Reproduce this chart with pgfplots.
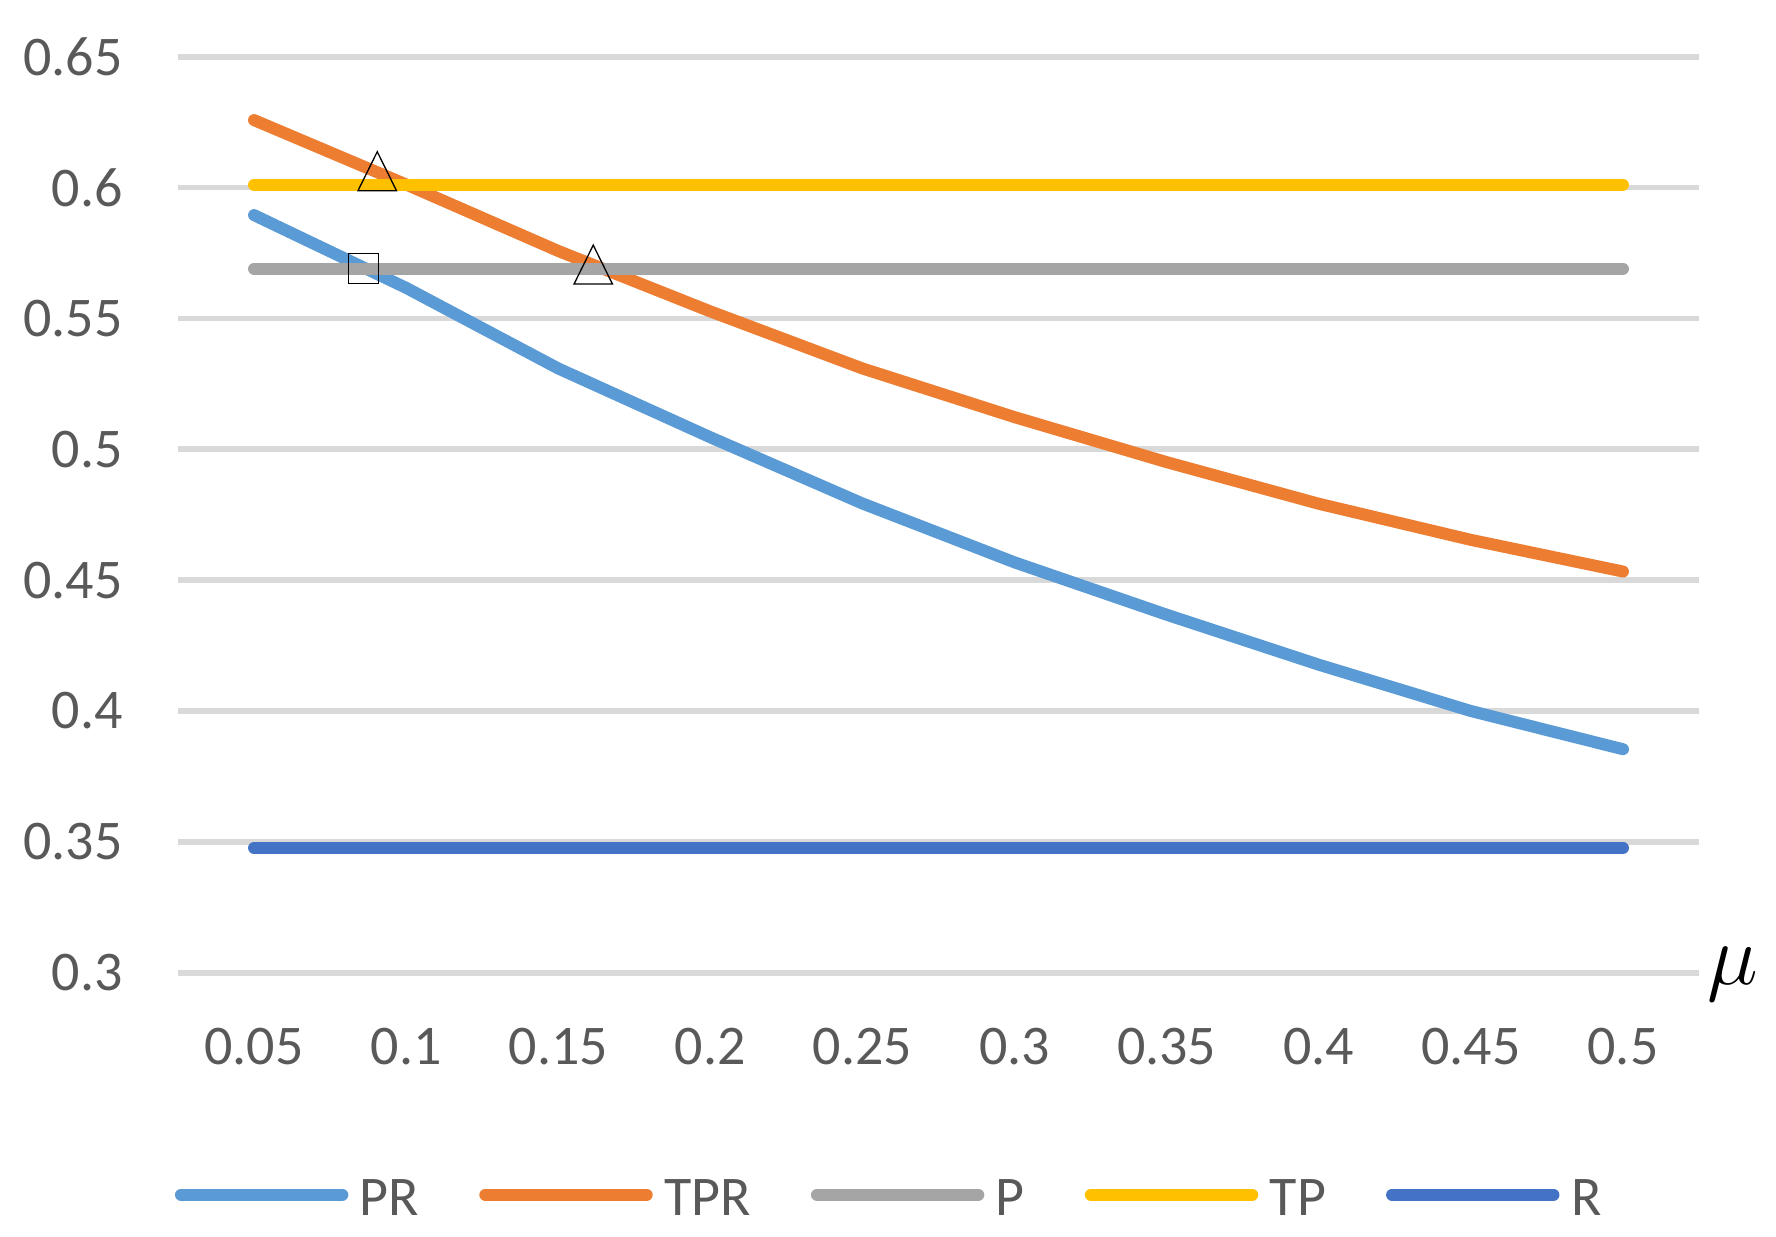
\RequirePackage{fix-cm}
\documentclass[border=0pt]{standalone}
\usepackage{fontspec}
\setmainfont{Carlito}
\usepackage{pgfplots}
\pgfplotsset{compat=1.18}
\definecolor{cPR}{HTML}{5B9BD5}
\definecolor{cTPR}{HTML}{ED7D31}
\definecolor{cP}{HTML}{A5A5A5}
\definecolor{cTP}{HTML}{FFC000}
\definecolor{cR}{HTML}{4472C4}
\definecolor{gridc}{HTML}{D9D9D9}
\definecolor{txt}{HTML}{595959}
\begin{document}
\begin{tikzpicture}
\useasboundingbox (0,0) rectangle (888pt,618pt);
\begin{axis}[
  at={(89pt,131.65pt)}, anchor=south west,
  width=760.5pt, height=457.95pt, scale only axis,
  xmin=0.025, xmax=0.525, ymin=0.3, ymax=0.65,
  axis line style={draw=none}, tick style={draw=none}, major tick length=0pt,
  xtick={0.05,0.1,0.15,0.2,0.25,0.3,0.35,0.4,0.45,0.5},
  xticklabels={0.05,0.1,0.15,0.2,0.25,0.3,0.35,0.4,0.45,0.5},
  ytick={0.3,0.35,0.4,0.45,0.5,0.55,0.6,0.65},
  yticklabels={0.3,0.35,0.4,0.45,0.5,0.55,0.6,0.65},
  ymajorgrids, major grid style={line width=2.85pt, color=gridc},
  tick label style={font=\fontsize{28}{34}\selectfont, text=txt},
  xticklabel style={anchor=center, inner sep=0pt, yshift=-36.7pt},
  yticklabel style={anchor=east, inner sep=0pt, xshift=-27.5pt},
  clip=false,
  legend columns=5,
  legend style={draw=none, fill=none, at={(-0.002,-0.2377)}, anchor=west,
    inner sep=0pt, outer sep=0pt, font=\fontsize{28}{34}\selectfont,
    nodes={inner sep=0pt, outer sep=0pt, text=txt},
    /tikz/every odd column/.append style={column sep=5.8pt},
    /tikz/every even column/.append style={column sep=30pt}},
  legend image code/.code={\path[draw=none,fill=none] (0pt,0pt) rectangle (86.7pt,18pt); \draw[#1] (3pt,2pt) -- (83.7pt,2pt);},
  every axis plot/.append style={line width=6pt, line cap=round, line join=round},
]
\addplot[cPR] coordinates {(0.05,0.5895) (0.1,0.5617) (0.15,0.5309) (0.2,0.5046) (0.25,0.4793) (0.3,0.4568) (0.35,0.4368) (0.4,0.4177) (0.45,0.4000) (0.5,0.3854)};
\addlegendentry{PR}
\addplot[cTPR] coordinates {(0.05,0.6258) (0.1,0.6012) (0.15,0.5758) (0.2,0.5527) (0.25,0.5309) (0.3,0.5123) (0.35,0.4951) (0.4,0.4792) (0.45,0.4654) (0.5,0.4533)};
\addlegendentry{TPR}
\addplot[cP] coordinates {(0.05,0.569) (0.1,0.569) (0.15,0.569) (0.2,0.569) (0.25,0.569) (0.3,0.569) (0.35,0.569) (0.4,0.569) (0.45,0.569) (0.5,0.569)};
\addlegendentry{P}
\addplot[cTP] coordinates {(0.05,0.6011) (0.1,0.6011) (0.15,0.6011) (0.2,0.6011) (0.25,0.6011) (0.3,0.6011) (0.35,0.6011) (0.4,0.6011) (0.45,0.6011) (0.5,0.6011)};
\addlegendentry{TP}
\addplot[cR] coordinates {(0.05,0.3477) (0.1,0.3477) (0.15,0.3477) (0.2,0.3477) (0.25,0.3477) (0.3,0.3477) (0.35,0.3477) (0.4,0.3477) (0.45,0.3477) (0.5,0.3477)};
\addlegendentry{R}
\addplot[forget plot, only marks, mark=triangle, mark size=11.1pt,
  mark options={yscale=1.17, line width=0.65pt, draw=black, fill=none, line join=miter}]
  coordinates {(0.0905,0.6038) (0.1615,0.5681)};
\addplot[forget plot, only marks, mark=square, mark size=7.5pt,
  mark options={line width=0.65pt, draw=black, fill=none, line join=miter}]
  coordinates {(0.0859,0.569)};
\node[anchor=base west, inner sep=0pt, font=\fontsize{43}{50}\selectfont] at ([xshift=4pt,yshift=-6pt]rel axis cs:1,0) {$\mu$};
\end{axis}
\end{tikzpicture}
\end{document}
